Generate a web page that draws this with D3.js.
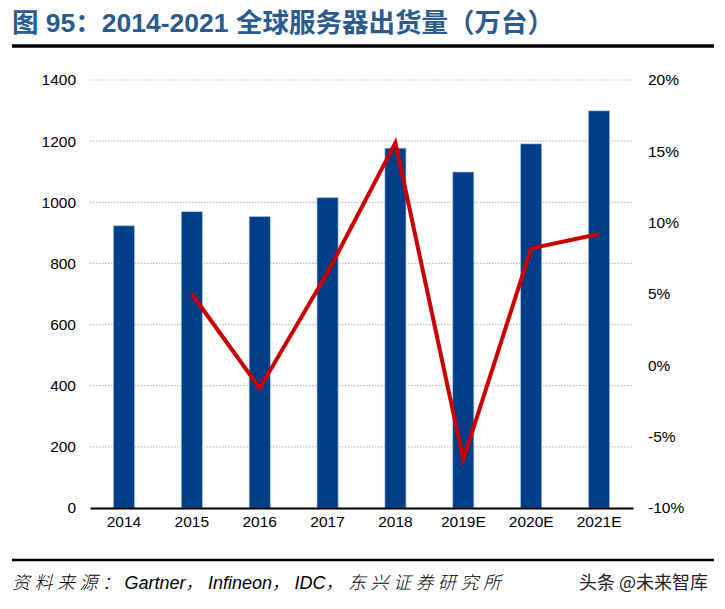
<!DOCTYPE html>
<html>
<head>
<meta charset="utf-8">
<script src="https://cdn.jsdelivr.net/npm/d3@7"></script>
<style>
  html, body { margin: 0; padding: 0; background: #fff; }
  svg { display: block; }
</style>
</head>
<body>
<svg id="chart" width="725" height="609"></svg>
<script>
// ---- data ----
const categories = ["2014", "2015", "2016", "2017", "2018", "2019E", "2020E", "2021E"];
const shipments = [923, 969, 953, 1015, 1177, 1099, 1191, 1299];       // 万台
const growth = [null, 5.0, -1.6, 6.5, 15.6, -6.6, 8.2, 9.2];           // %
const leftTicks = [0, 200, 400, 600, 800, 1000, 1200, 1400];
const rightTicks = [-10, -5, 0, 5, 10, 15, 20];
const titleText = "图 95：2014-2021 全球服务器出货量（万台）";
const sourceParts = [
  { t: "资料来源：", cjk: true },
  { t: "Gartner", cjk: false },
  { t: "，", cjk: true },
  { t: "Infineon", cjk: false },
  { t: "，", cjk: true },
  { t: "IDC", cjk: false },
  { t: "，", cjk: true },
  { t: "东兴证券研究所", cjk: true }
];
const watermark = "头条 @未来智库";

const svg = d3.select("#chart");
const latin = "'Liberation Sans', Arial, sans-serif";
const cjk = "'Liberation Sans', 'Noto Sans CJK SC', sans-serif";

const plot = { left: 90, right: 633, top: 80, bottom: 508 };

const x = d3.scaleBand().domain(categories)
  .range([plot.left, plot.right]).paddingInner(0.69).paddingOuter(0.345);
const yL = d3.scaleLinear().domain([0, 1400]).range([plot.bottom, plot.top]);
const yR = d3.scaleLinear().domain([-10, 20]).range([plot.bottom, plot.top]);

// title
svg.append("text")
  .attr("x", 12).attr("y", 32)
  .attr("font-family", cjk).attr("font-weight", "bold")
  .attr("font-size", 26.5).attr("fill", "#2A5A8E")
  .text(titleText);
svg.append("line")
  .attr("x1", 12).attr("x2", 714).attr("y1", 46).attr("y2", 46)
  .attr("stroke", "#000").attr("stroke-width", 3.5);

// gridlines
svg.append("g").selectAll("line").data(leftTicks.filter(d => d > 0)).join("line")
  .attr("x1", plot.left).attr("x2", plot.right)
  .attr("y1", d => yL(d)).attr("y2", d => yL(d))
  .attr("stroke", "#BFBFBF").attr("stroke-width", 1.2)
  .attr("stroke-dasharray", "1.5,1.5");

// left axis
const gL = svg.append("g").attr("transform", `translate(${plot.left - 14},0)`)
  .call(d3.axisLeft(yL).tickValues(leftTicks).tickSize(0).tickPadding(0)
    .tickFormat(d3.format("d")));
gL.select(".domain").remove();
gL.selectAll("text").attr("font-family", latin).attr("font-size", 15.5).attr("fill", "#000");

// right axis
const gR = svg.append("g").attr("transform", `translate(${plot.right + 15},0)`)
  .call(d3.axisRight(yR).tickValues(rightTicks).tickSize(0).tickPadding(0)
    .tickFormat(d => d + "%"));
gR.select(".domain").remove();
gR.selectAll("text").attr("font-family", latin).attr("font-size", 15.5).attr("fill", "#000");

// bars
svg.append("g").selectAll("rect").data(categories).join("rect")
  .attr("x", d => x(d))
  .attr("y", (d, i) => yL(shipments[i]))
  .attr("width", x.bandwidth())
  .attr("height", (d, i) => yL(0) - yL(shipments[i]))
  .attr("fill", "#003F87")
  .attr("stroke", "#9CBCE0").attr("stroke-width", 0.6);

// x axis
const gX = svg.append("g").attr("transform", `translate(0,${plot.bottom})`)
  .call(d3.axisBottom(x).tickSize(0).tickPadding(8));
gX.select(".domain").attr("stroke", "#000").attr("stroke-width", 2);
gX.selectAll("text").attr("font-family", latin).attr("font-size", 15.5).attr("fill", "#000");

// growth line
const lineData = categories.map((c, i) => ({ c, v: growth[i] })).filter(d => d.v !== null);
svg.append("path").datum(lineData)
  .attr("fill", "none").attr("stroke", "#CC0000").attr("stroke-width", 4)
  .attr("stroke-linejoin", "miter")
  .attr("d", d3.line().x(d => x(d.c) + x.bandwidth() / 2).y(d => yR(d.v)));

// footer
svg.append("line")
  .attr("x1", 12).attr("x2", 714).attr("y1", 560).attr("y2", 560)
  .attr("stroke", "#000").attr("stroke-width", 2.5);
const src = svg.append("text")
  .attr("x", 12).attr("y", 589)
  .attr("font-family", cjk).attr("font-style", "italic")
  .attr("font-size", 18).attr("fill", "#000");
src.selectAll("tspan").data(sourceParts).join("tspan")
  .attr("font-family", d => d.cjk ? "'Noto Sans CJK SC', sans-serif" : latin)
  .attr("letter-spacing", d => d.cjk ? 4.5 : 0)
  .attr("font-weight", d => d.cjk ? 300 : 400)
  .text(d => d.t);
svg.append("text")
  .attr("x", 708).attr("y", 589).attr("text-anchor", "end")
  .attr("font-family", "'Noto Sans CJK SC', sans-serif")
  .attr("font-size", 18).attr("fill", "#222")
  .text(watermark);
</script>
</body>
</html>
